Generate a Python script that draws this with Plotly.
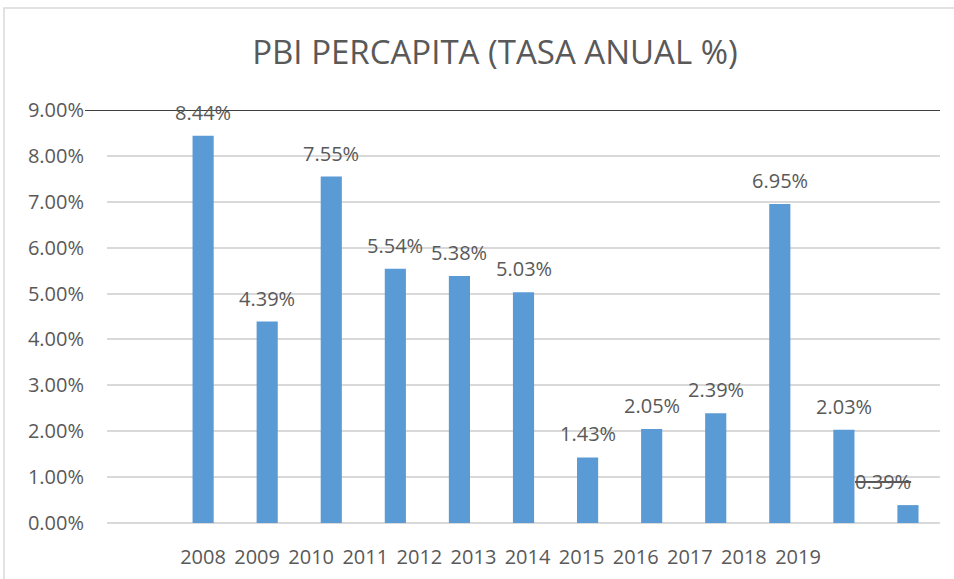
import plotly.graph_objects as go

years = [2008, 2009, 2010, 2011, 2012, 2013, 2014, 2015, 2016, 2017, 2018, 2019]
growth = [8.44, 4.39, 7.55, 5.54, 5.38, 5.03, 1.43, 2.05, 2.39, 6.95, 2.03, 0.39]
year_labels = [str(y) for y in years]
title_text = "PBI PERCAPITA (TASA ANUAL %)"

FONT = "Open Sans"
TXT = "#595959"
BAR = "#5B9BD5"
GRID = "#D9D9D9"

fig = go.Figure()
fig.add_trace(go.Bar(
    x=years, y=growth, marker=dict(color=BAR, line=dict(width=0)),
    width=0.33, showlegend=False, hoverinfo="skip",
))
# helper trace for the (offset) year label axis
fig.add_trace(go.Scatter(
    x=years, y=[None] * len(years), xaxis="x2", mode="markers",
    showlegend=False, hoverinfo="skip",
))

annotations = []
for i, (yr, v) in enumerate(zip(years, growth)):
    txt = f"{v:.2f}%"
    xs = 0
    if i == len(years) - 1:
        txt = f"<s>{txt}</s>"
        xs = -25
    annotations.append(dict(
        x=yr, y=v, xref="x", yref="y", text=txt, showarrow=False,
        yanchor="bottom", xanchor="center", yshift=8, xshift=xs,
        font=dict(family=FONT, size=20, color=TXT),
    ))

fig.update_layout(
    width=954, height=579,
    margin=dict(l=107, r=14, t=110, b=56, autoexpand=False),
    paper_bgcolor="white", plot_bgcolor="white",
    title=dict(text=title_text, x=495 / 954, xref="container", xanchor="center",
               y=1 - 52 / 579, yref="container", yanchor="middle",
               font=dict(family=FONT, size=33, color=TXT)),
    xaxis=dict(range=[2006.5, 2019.5], showticklabels=False, showgrid=False,
               zeroline=False, showline=False, ticks="", automargin=False),
    xaxis2=dict(range=[2006.225, 2021.625], overlaying="x", anchor="y", side="bottom",
                tickvals=years, ticktext=year_labels, showgrid=False, zeroline=False,
                showline=False, ticks="", ticklabelstandoff=20, automargin=False,
                tickfont=dict(family=FONT, size=20, color=TXT)),
    yaxis=dict(range=[0, 9], dtick=1, tick0=0, tickformat=".2f", ticksuffix="%",
               showgrid=True, gridcolor=GRID, gridwidth=1.5, zeroline=True,
               zerolinecolor=GRID, zerolinewidth=1.5, showline=False, ticks="",
               ticklabelstandoff=22, automargin=False,
               tickfont=dict(family=FONT, size=20, color=TXT)),
    annotations=annotations,
    shapes=[
        dict(type="line", xref="paper", yref="y", x0=(85 - 107) / 833, x1=1, y0=9, y1=9,
             line=dict(color="#404040", width=2)),
        dict(type="rect", xref="paper", yref="paper", x0=(4 - 107) / 833, x1=1.2,
             y0=-0.3, y1=(523 - 8) / 413, line=dict(color="#D9D9D9", width=1.5),
             fillcolor="rgba(0,0,0,0)", layer="below"),
    ],
)

fig.write_html("out.html", config={"displayModeBar": False},
               post_script="document.body.style.margin='0';")
